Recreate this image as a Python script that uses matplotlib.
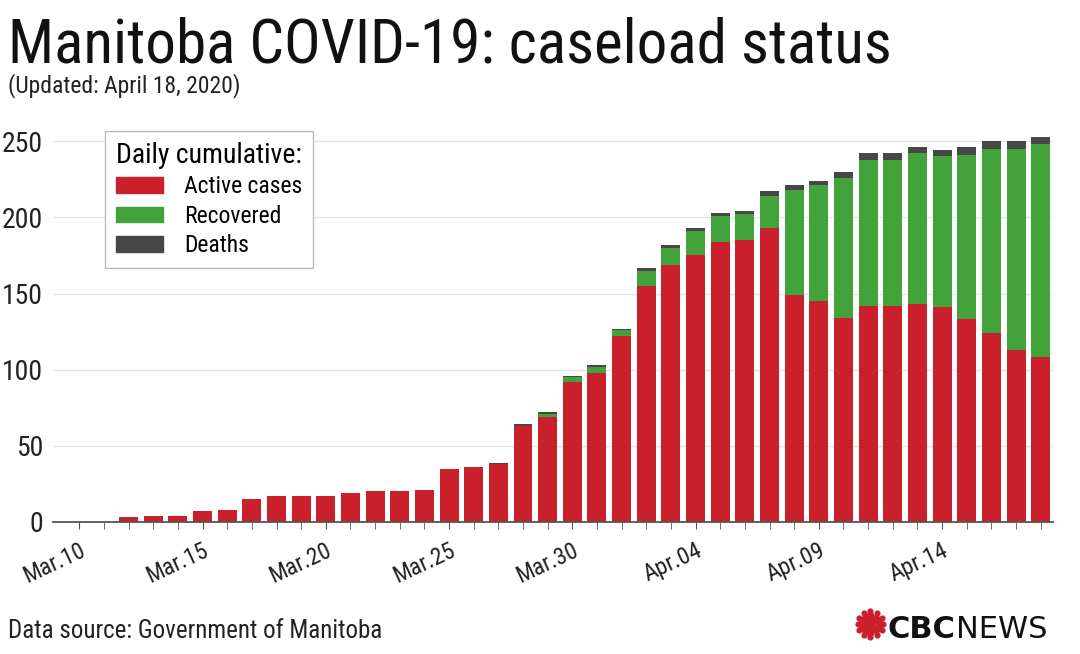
import matplotlib
matplotlib.use("Agg")
import matplotlib.pyplot as plt
from matplotlib import font_manager
from matplotlib.patches import Patch
import numpy as np

# data, Mar.10 .. Apr.18 2020
days = [f"Mar.{d:02d}" for d in range(10, 32)] + [f"Apr.{d:02d}" for d in range(1, 19)]
active = [0, 0, 3, 4, 4, 7, 8, 15, 17, 17, 17, 19, 20, 20, 21, 35, 36, 38, 63, 69, 92, 98,
          122, 155, 169, 175, 184, 185, 193, 149, 145, 134, 142, 142, 143, 141, 133, 124, 113, 108]
recovered = [0] * 19 + [2, 3, 4] + \
            [4, 10, 11, 16, 17, 17, 21, 69, 76, 92, 96, 96, 99, 99, 108, 121, 132, 140]
deaths = [0] * 17 + [1, 1, 1, 1, 1] + \
         [1, 2, 2, 2, 2, 2, 3, 3, 3, 4, 4, 4, 4, 4, 5, 5, 5, 5]
tick_labels = ["Mar.10", "Mar.15", "Mar.20", "Mar.25", "Mar.30", "Apr.04", "Apr.09", "Apr.14"]

RED = "#c9202b"
GREEN = "#41a33a"
GREY = "#474747"

# pick a narrow font if there is one
names = {f.name for f in font_manager.fontManager.ttflist}
fam = "DejaVu Sans"
for cand in ["Liberation Sans Narrow", "Roboto Condensed", "Open Sans Condensed", "Roboto", "DejaVu Sans"]:
    if cand in names:
        fam = cand
        break
plt.rcParams["font.family"] = [fam, "DejaVu Sans"]

fig = plt.figure(figsize=(10.8, 6.54), dpi=100)
ax = fig.add_axes([0.049, 0.202, 0.926, 0.596])

x = np.arange(len(days))
a = np.array(active)
r = np.array(recovered)
d = np.array(deaths)
w = 0.77
ax.bar(x, a, w, color=RED, zorder=3)
ax.bar(x, r, w, bottom=a, color=GREEN, zorder=3)
ax.bar(x, d, w, bottom=a + r, color=GREY, zorder=3)

ax.set_xlim(-1.07, 39.5)
ax.set_ylim(0, 256)
ax.set_yticks([0, 50, 100, 150, 200, 250])
ax.grid(axis="y", color="#e4e4e4", linewidth=1, zorder=0)
for s in ["top", "right", "left"]:
    ax.spines[s].set_visible(False)
ax.spines["bottom"].set_color("#555555")
ax.spines["bottom"].set_linewidth(1.3)
ax.spines["bottom"].set_zorder(4)

ax.set_xticks(x, minor=True)
ax.set_xticks(x[::5])
ax.set_xticklabels(tick_labels, rotation=25, ha="right", rotation_mode="anchor")
ax.tick_params(axis="x", which="both", length=5, color="#555555", direction="out")
ax.tick_params(axis="x", which="major", labelsize=17, pad=7, labelcolor="#222222")
ax.tick_params(axis="y", length=0, labelsize=20, pad=7, labelcolor="#222222")

handles = [Patch(color=RED), Patch(color=GREEN), Patch(color=GREY)]
leg = ax.legend(handles, ["Active cases", "Recovered", "Deaths"], title="Daily cumulative:",
                loc="upper left", bbox_to_anchor=(105 / 1080, 1 - 131 / 654),
                bbox_transform=fig.transFigure, borderaxespad=0, fontsize=17,
                title_fontsize=20, handlelength=2.0, handleheight=0.65, handletextpad=0.9,
                labelspacing=0.28, fancybox=False, framealpha=1, edgecolor="#bbbbbb",
                borderpad=0.45)
leg.get_frame().set_linewidth(1)
leg.set_zorder(5)

fig.text(0.007, 0.905, "Manitoba COVID-19: caseload status", fontsize=44, color="#111111")
fig.text(0.007, 0.859, "(Updated: April 18, 2020)", fontsize=17, color="#222222")
fig.text(0.007, 0.024, "Data source: Government of Manitoba", fontsize=18, color="#222222")

# CBC NEWS logo
t1 = fig.text(0.822, 0.024, "CBC", fontsize=22, fontweight="bold", color="#111111",
              family="DejaVu Sans")
fig.canvas.draw()
bb = t1.get_window_extent().transformed(fig.transFigure.inverted())
fig.text(bb.x1, 0.024, "NEWS", fontsize=22, color="#111111", family="DejaVu Sans")
cx, cy = 0.806, 0.046
gem = [(0, 0, 20)]
for ang in range(0, 360, 45):
    rr = 0.0075 if ang % 90 == 0 else 0.0068
    gem.append((rr * np.cos(np.radians(ang)), rr * np.sin(np.radians(ang)) * 1080 / 654, 16))
for ang in range(0, 360, 30):
    gem.append((0.0118 * np.cos(np.radians(ang)), 0.0118 * np.sin(np.radians(ang)) * 1080 / 654, 7))
for dx, dy, s in gem:
    fig.add_artist(plt.Line2D([cx + dx], [cy + dy], marker="o", markersize=s ** 0.5 * 1.3,
                              color=RED, linestyle="none", transform=fig.transFigure))

fig.savefig("out.png", dpi=100, facecolor="white")
